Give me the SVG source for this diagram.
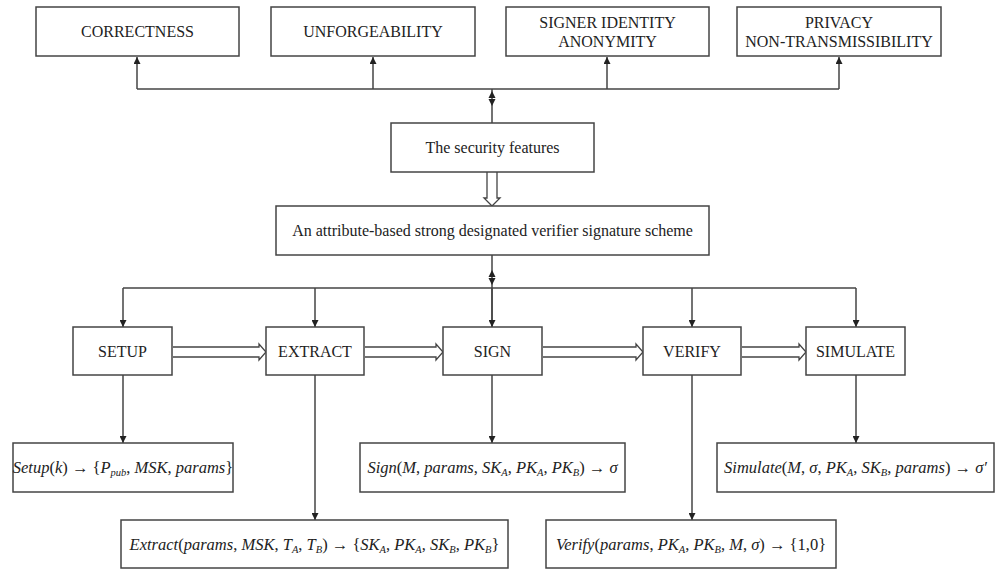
<svg xmlns="http://www.w3.org/2000/svg" width="1002" height="569" viewBox="0 0 1002 569">
<style>
.box{fill:#fff;stroke:#444;stroke-width:1.5}
.t{font-family:'Liberation Serif','DejaVu Serif',serif;font-size:16px;fill:#222;text-anchor:middle}
.m{font-family:'Liberation Serif','DejaVu Serif',serif;font-size:16.5px;fill:#222;text-anchor:middle}
.i{font-style:italic}
.s{font-size:10.5px;font-style:italic}
.ln{fill:none;stroke:#444;stroke-width:1.5}
.hol{fill:#fff;stroke:#444;stroke-width:1.3}
.ah{fill:#222}
</style>
<defs>
<marker id="arr" viewBox="0 0 10 10" refX="10" refY="5" markerWidth="7" markerHeight="7" markerUnits="userSpaceOnUse" orient="auto"><path d="M0,0 L10,5 L0,10 z" fill="#222"/></marker>
</defs>
<rect width="1002" height="569" fill="#fff"/>

<g id="connectors">
<path class="ln" d="M137,89 H839"/>
<path class="ln" d="M137,89 V57" marker-end="url(#arr)"/>
<path class="ln" d="M373,89 V57" marker-end="url(#arr)"/>
<path class="ln" d="M607,89 V57" marker-end="url(#arr)"/>
<path class="ln" d="M839,89 V57" marker-end="url(#arr)"/>
<path class="ln" d="M492,89 V123"/>
<path class="ah" d="M492,91 L488.5,98 L495.5,98 z"/>
<path class="ah" d="M492,106 L488.5,99 L495.5,99 z"/>
<path class="hol" d="M487,172 V198 H484 L492,206 L500,198 H497 V172"/>
<path class="ln" d="M492,255 V327"/>
<path class="ah" d="M492,270 L488.5,277 L495.5,277 z"/>
<path class="ah" d="M492,285 L488.5,278 L495.5,278 z"/>
<path class="ln" d="M123,288 H856"/>
<path class="ln" d="M123,288 V327" marker-end="url(#arr)"/>
<path class="ln" d="M315,288 V327" marker-end="url(#arr)"/>
<path class="ln" d="M492,288 V327" marker-end="url(#arr)"/>
<path class="ln" d="M692,288 V327" marker-end="url(#arr)"/>
<path class="ln" d="M856,288 V327" marker-end="url(#arr)"/>
<path class="hol" d="M173,347 H259 V344 L266,352 L259,360 V357 H173"/>
<path class="hol" d="M365,347 H436 V344 L443,352 L436,360 V357 H365"/>
<path class="hol" d="M543,347 H636 V344 L643,352 L636,360 V357 H543"/>
<path class="hol" d="M742,347 H799 V344 L806,352 L799,360 V357 H742"/>
<path class="ln" d="M123,375 V443" marker-end="url(#arr)"/>
<path class="ln" d="M315,375 V520" marker-end="url(#arr)"/>
<path class="ln" d="M492,375 V443" marker-end="url(#arr)"/>
<path class="ln" d="M692,375 V520" marker-end="url(#arr)"/>
<path class="ln" d="M856,375 V443" marker-end="url(#arr)"/>
</g>

<g id="correctness"><rect class="box" x="36" y="7" width="203" height="49"/><text class="t" x="137.5" y="37">CORRECTNESS</text></g>
<g id="unforgeability"><rect class="box" x="271" y="7" width="204" height="49"/><text class="t" x="373" y="37">UNFORGEABILITY</text></g>
<g id="anonymity"><rect class="box" x="506" y="7" width="203" height="49"/><text class="t" x="607.5" y="28">SIGNER IDENTITY</text><text class="t" x="607.5" y="47">ANONYMITY</text></g>
<g id="privacy"><rect class="box" x="737" y="7" width="204" height="49"/><text class="t" x="839" y="28">PRIVACY</text><text class="t" x="839" y="47">NON-TRANSMISSIBILITY</text></g>

<g id="security"><rect class="box" x="391" y="123" width="203" height="49"/><text class="t" x="492.5" y="153">The security features</text></g>
<g id="scheme"><rect class="box" x="276" y="206" width="433" height="49"/><text class="t" x="492.5" y="236">An attribute-based strong designated verifier signature scheme</text></g>

<g id="setup"><rect class="box" x="73" y="327" width="99" height="48"/><text class="t" x="122.5" y="357">SETUP</text></g>
<g id="extract"><rect class="box" x="266" y="327" width="98" height="48"/><text class="t" x="315" y="357">EXTRACT</text></g>
<g id="sign"><rect class="box" x="443" y="327" width="99" height="48"/><text class="t" x="492.5" y="357">SIGN</text></g>
<g id="verify"><rect class="box" x="643" y="327" width="98" height="48"/><text class="t" x="692" y="357">VERIFY</text></g>
<g id="simulate"><rect class="box" x="806" y="327" width="99" height="48"/><text class="t" x="855.5" y="357">SIMULATE</text></g>

<g id="setup-out"><rect class="box" x="13" y="443" width="220" height="49"/>
<text class="m" x="123" y="473"><tspan class="i">Setup</tspan>(<tspan class="i">k</tspan>) → {<tspan class="i">P</tspan><tspan class="s" dy="3">pub</tspan><tspan dy="-3">, </tspan><tspan class="i">MSK</tspan>, <tspan class="i">params</tspan>}</text></g>

<g id="sign-out"><rect class="box" x="360" y="443" width="265" height="49"/>
<text class="m" x="492.5" y="473"><tspan class="i">Sign</tspan>(<tspan class="i">M</tspan>, <tspan class="i">params</tspan>, <tspan class="i">SK</tspan><tspan class="s" dy="3">A</tspan><tspan dy="-3">, </tspan><tspan class="i">PK</tspan><tspan class="s" dy="3">A</tspan><tspan dy="-3">, </tspan><tspan class="i">PK</tspan><tspan class="s" dy="3">B</tspan><tspan dy="-3">) → </tspan><tspan class="i">σ</tspan></text></g>

<g id="simulate-out"><rect class="box" x="717" y="443" width="277" height="49"/>
<text class="m" x="855.5" y="473"><tspan class="i">Simulate</tspan>(<tspan class="i">M</tspan>, <tspan class="i">σ</tspan>, <tspan class="i">PK</tspan><tspan class="s" dy="3">A</tspan><tspan dy="-3">, </tspan><tspan class="i">SK</tspan><tspan class="s" dy="3">B</tspan><tspan dy="-3">, </tspan><tspan class="i">params</tspan>) → <tspan class="i">σ′</tspan></text></g>

<g id="extract-out"><rect class="box" x="121" y="520" width="387" height="48"/>
<text class="m" x="314.5" y="550"><tspan class="i">Extract</tspan>(<tspan class="i">params</tspan>, <tspan class="i">MSK</tspan>, <tspan class="i">T</tspan><tspan class="s" dy="3">A</tspan><tspan dy="-3">, </tspan><tspan class="i">T</tspan><tspan class="s" dy="3">B</tspan><tspan dy="-3">) → {</tspan><tspan class="i">SK</tspan><tspan class="s" dy="3">A</tspan><tspan dy="-3">, </tspan><tspan class="i">PK</tspan><tspan class="s" dy="3">A</tspan><tspan dy="-3">, </tspan><tspan class="i">SK</tspan><tspan class="s" dy="3">B</tspan><tspan dy="-3">, </tspan><tspan class="i">PK</tspan><tspan class="s" dy="3">B</tspan><tspan dy="-3">}</tspan></text></g>

<g id="verify-out"><rect class="box" x="546" y="520" width="290" height="48"/>
<text class="m" x="691" y="550"><tspan class="i">Verify</tspan>(<tspan class="i">params</tspan>, <tspan class="i">PK</tspan><tspan class="s" dy="3">A</tspan><tspan dy="-3">, </tspan><tspan class="i">PK</tspan><tspan class="s" dy="3">B</tspan><tspan dy="-3">, </tspan><tspan class="i">M</tspan>, <tspan class="i">σ</tspan>) → {1,0}</text></g>
</svg>
